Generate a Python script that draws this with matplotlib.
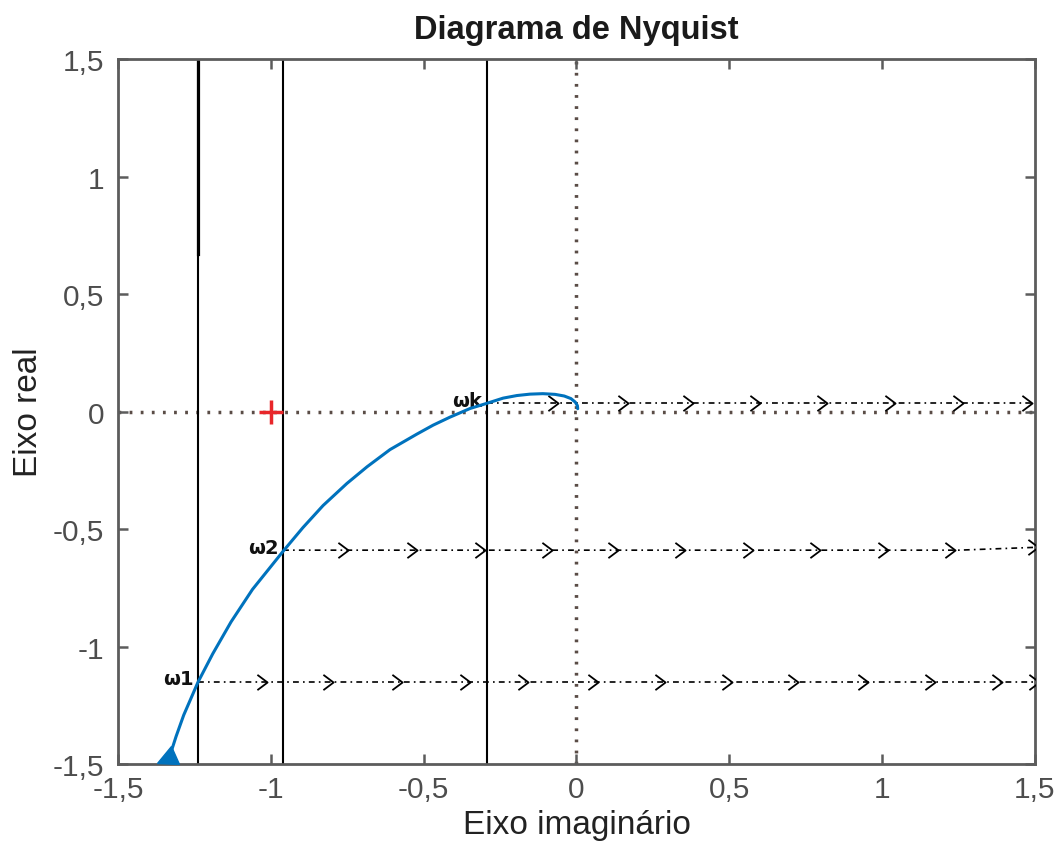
import numpy as np
import matplotlib
matplotlib.use("Agg")
from matplotlib import pyplot
from matplotlib.path import Path
from matplotlib.markers import MarkerStyle
from matplotlib.transforms import Affine2D

# Nyquist curve (real part on x, imaginary part on y)
nyq_x = [-1.330, -1.310, -1.285, -1.238, -1.190, -1.130, -1.060, -0.960, -0.895,
         -0.829, -0.751, -0.685, -0.610, -0.522, -0.469, -0.414, -0.348, -0.293,
         -0.240, -0.195, -0.152, -0.110, -0.070, -0.040, -0.018, -0.004, 0.003,
         0.004]
nyq_y = [-1.464, -1.383, -1.292, -1.151, -1.031, -0.895, -0.757, -0.595, -0.494,
         -0.400, -0.306, -0.235, -0.162, -0.096, -0.058, -0.024, 0.013, 0.035,
         0.057, 0.068, 0.074, 0.076, 0.073, 0.066, 0.055, 0.040, 0.025, 0.012]

# crossing frequencies: vertical lines and horizontal projections
w_names = ["ω1", "ω2", "ωk"]
w_x = [-1.238, -0.960, -0.293]
w_y = [-1.150, -0.590, 0.035]

# horizontal projection lines (x, y)
proj1_x = [-1.238, 1.5]
proj1_y = [-1.150, -1.150]
proj2_x = [-0.960, 1.25, 1.5]
proj2_y = [-0.590, -0.590, -0.578]
projk_x = [-0.293, 1.5]
projk_y = [0.035, 0.035]

# arrow heads along each projection
arr1_x = [-1.029, -0.813, -0.587, -0.365, -0.175, 0.054, 0.273, 0.492, 0.708,
          0.937, 1.156, 1.375, 1.497]
arr1_y = [-1.150] * len(arr1_x)
arr2_x = [-0.764, -0.538, -0.316, -0.097, 0.119, 0.339, 0.561, 0.780, 1.002,
          1.222, 1.493]
arr2_y = [-0.590] * 10 + [-0.578]
arrk_x = [-0.077, 0.152, 0.365, 0.584, 0.803, 1.025, 1.248, 1.474]
arrk_y = [0.035] * len(arrk_x)

ticks = [-1.5, -1, -0.5, 0, 0.5, 1, 1.5]
tick_labels = ["-1,5", "-1", "-0,5", "0", "0,5", "1", "1,5"]

pyplot.rcParams['font.family'] = ['Liberation Sans', 'DejaVu Sans']

fig = pyplot.figure(figsize=(10.6, 8.54), dpi=100)
ax = fig.add_axes([0.1113, 0.1042, 0.8651, 0.8255])

ax.set_xlim(-1.5, 1.5)
ax.set_ylim(-1.5, 1.5)

dot_col = "#5a4c46"
ax.axhline(0, color=dot_col, lw=2.5, ls=(0, (0.8, 2.4)), zorder=1)
ax.axvline(0, color=dot_col, lw=2.5, ls=(0, (0.8, 2.4)), zorder=1)

# vertical lines through the crossing points
for xv in w_x:
    ax.axvline(xv, color="black", lw=1.5, zorder=2)
ax.axvline(w_x[0], ymin=(0.67 + 1.5) / 3, color="black", lw=2.3, zorder=2)

chevron = Path([(-0.5, 0.75), (0.5, 0.0), (-0.5, -0.75)],
               [Path.MOVETO, Path.LINETO, Path.LINETO])

dashdot = (0, (3.5, 2.5, 1, 2.5))
for px, py, mx, my in [(proj1_x, proj1_y, arr1_x, arr1_y),
                       (proj2_x, proj2_y, arr2_x, arr2_y),
                       (projk_x, projk_y, arrk_x, arrk_y)]:
    ax.plot(px, py, color="black", lw=1.2, ls=dashdot, zorder=3)
    ax.plot(mx, my, ls="none", marker=chevron, markersize=11, mew=1.3,
            mfc="none", mec="black", zorder=3)

# critical point
ax.plot([-1], [0], marker="+", markersize=17, mew=2.5, color="#e8262a", zorder=2)

# Nyquist curve and its direction marker
ax.plot(nyq_x, nyq_y, color="#0072BD", lw=2.2, zorder=4,
        solid_joinstyle="round", solid_capstyle="round")
tri = MarkerStyle("<", transform=Affine2D().rotate_deg(25))
ax.plot([nyq_x[0] - 0.012], [nyq_y[0] - 0.015], marker=tri, markersize=14,
        color="#0072BD", ls="none", zorder=4)

for name, xv, yv in zip(w_names, w_x, w_y):
    ax.text(xv - 0.015, yv + 0.012, name, ha="right", va="center", fontsize=14,
            fontweight="bold", color="#111111", family=["DejaVu Sans"])

ax.set_xticks(ticks)
ax.set_xticklabels(tick_labels)
ax.set_yticks(ticks)
ax.set_yticklabels(tick_labels)

spine_col = "#5c5c5c"
for s in ax.spines.values():
    s.set_color(spine_col)
    s.set_linewidth(2)
ax.tick_params(direction="in", length=7, width=1.8, color=spine_col,
               top=True, right=True, labelsize=21.5, labelcolor="#4d4d4d")
ax.tick_params(axis="x", pad=8)
ax.tick_params(axis="y", pad=10)

ax.set_xlabel("Eixo imaginário", fontsize=24, color="#222222", labelpad=4)
ax.set_ylabel("Eixo real", fontsize=24, color="#222222", labelpad=6)
ax.set_title("Diagrama de Nyquist", fontsize=23.5, fontweight="bold",
             color="#1a1a1a", pad=15)

pyplot.savefig("out.png", dpi=100)
